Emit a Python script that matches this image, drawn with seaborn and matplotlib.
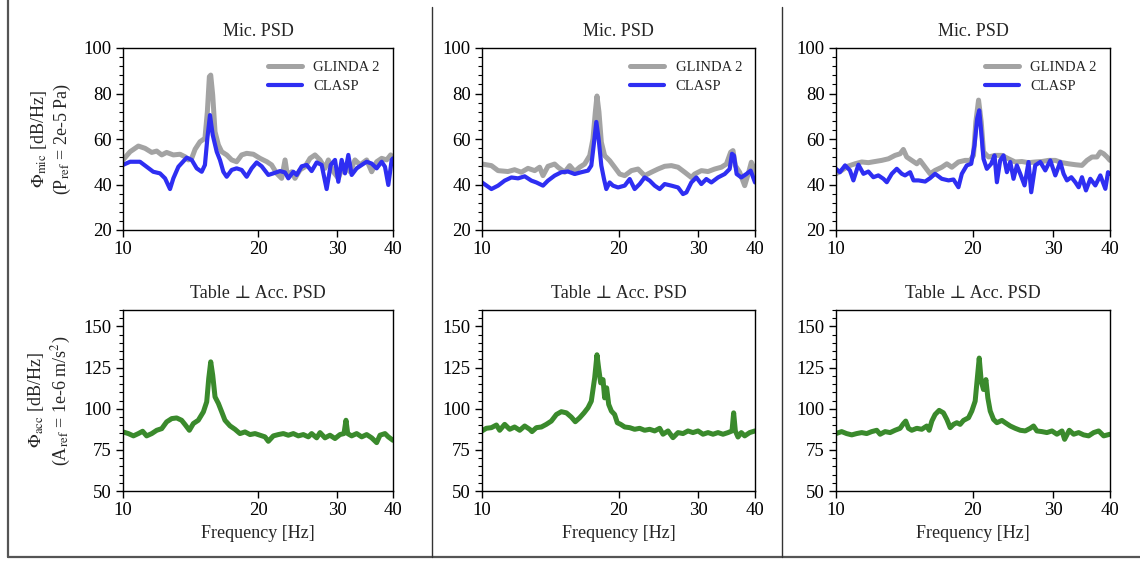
import matplotlib
matplotlib.use("Agg")
import matplotlib.pyplot as plt
import seaborn as sns
from matplotlib.lines import Line2D
from matplotlib.ticker import MultipleLocator, NullLocator, FixedLocator, FixedFormatter

# ---------------------------------------------------------------- data
# Column 1 microphone PSD
mic1_glinda_f = [10.0, 10.37, 10.82, 11.20, 11.59, 11.89, 12.20, 12.51, 12.95, 13.40, 13.75, 13.99,
                 14.23, 14.48, 14.85, 15.23, 15.42, 15.58, 15.69, 15.85, 16.04, 16.32, 16.60, 17.03,
                 17.47, 17.92, 18.39, 18.87, 19.53, 20.21, 20.94, 21.45, 22.01, 22.58, 22.98, 23.25,
                 23.77, 24.18, 24.81, 25.46, 26.12, 26.80, 27.50, 28.21, 28.70, 29.45, 30.21, 31.00,
                 32.08, 32.91, 33.77, 34.94, 35.85, 36.78, 37.74, 38.72, 39.52, 40.0]
mic1_glinda_db = [50.8, 54.4, 56.9, 55.9, 54.1, 54.7, 53.0, 54.1, 53.0, 53.3, 52.2, 50.8,
                  51.5, 55.5, 58.8, 60.3, 72.0, 87.4, 88.1, 79.3, 63.2, 57.4, 54.4, 53.0,
                  50.8, 50.0, 53.0, 53.7, 53.3, 51.5, 50.0, 48.6, 44.9, 42.7, 50.8, 44.2,
                  45.6, 42.7, 46.4, 47.8, 51.5, 53.0, 50.8, 47.1, 50.8, 45.6, 42.7, 48.6,
                  45.6, 50.8, 48.6, 50.8, 45.6, 50.0, 51.5, 50.8, 53.0, 51.5]
mic1_clasp_f = [10.0, 10.37, 10.91, 11.29, 11.68, 12.09, 12.41, 12.73, 12.95, 13.29, 13.87, 14.23,
                14.60, 14.98, 15.23, 15.42, 15.63, 15.85, 16.18, 16.45, 16.74, 17.03, 17.47, 17.92,
                18.39, 18.87, 19.36, 19.86, 20.38, 21.09, 21.64, 22.39, 22.97, 23.37, 23.98, 24.39,
                25.03, 25.68, 26.34, 27.03, 27.73, 28.45, 29.05, 29.70, 30.21, 30.73, 31.26, 31.80,
                32.35, 33.19, 34.06, 34.94, 35.85, 36.78, 37.74, 38.39, 39.05, 39.73, 40.0]
mic1_clasp_db = [48.6, 50.0, 50.0, 47.8, 45.6, 44.9, 42.7, 38.0, 42.7, 47.8, 51.8, 50.8,
                 47.1, 45.6, 48.6, 60.3, 70.5, 61.8, 54.4, 50.8, 45.6, 43.4, 46.4, 47.1,
                 46.4, 43.4, 47.1, 49.7, 48.0, 44.2, 44.9, 45.9, 45.3, 42.7, 45.6, 44.2,
                 48.0, 48.6, 45.9, 49.7, 48.6, 38.0, 48.6, 50.8, 41.2, 50.8, 44.9, 53.0,
                 44.2, 47.1, 48.6, 50.0, 49.2, 47.1, 50.0, 47.8, 39.8, 50.8, 51.5]

# Column 2 microphone PSD
mic2_glinda_f = [10.0, 10.49, 10.85, 11.41, 11.80, 12.21, 12.63, 13.07, 13.40, 13.63, 13.98, 14.46,
                 14.71, 15.22, 15.61, 16.01, 16.42, 16.84, 17.28, 17.57, 17.78, 17.93, 18.11, 18.33,
                 18.64, 19.12, 19.61, 20.12, 20.64, 21.35, 22.08, 22.84, 23.63, 24.44, 25.28, 26.16,
                 27.06, 27.99, 28.95, 29.44, 30.46, 31.51, 32.59, 33.72, 34.59, 35.35, 35.77, 36.20,
                 37.00, 37.96, 38.74, 39.26, 39.80, 40.0]
mic2_glinda_db = [49.0, 48.3, 46.1, 45.7, 46.5, 45.4, 47.1, 46.1, 47.6, 43.9, 48.0, 49.0,
                  47.6, 45.4, 48.3, 45.7, 47.6, 49.0, 52.7, 60.1, 71.9, 78.9, 71.9, 58.6,
                  52.7, 50.5, 47.6, 44.6, 43.9, 46.1, 46.8, 43.9, 45.4, 46.8, 48.0, 48.3,
                  47.6, 45.4, 43.1, 44.6, 46.1, 45.7, 46.8, 47.6, 49.0, 54.2, 54.9, 48.3,
                  45.4, 39.5, 45.4, 49.8, 47.1, 44.0]
mic2_clasp_f = [10.0, 10.49, 10.85, 11.22, 11.61, 12.01, 12.42, 12.85, 13.18, 13.63, 13.98, 14.46,
                14.96, 15.48, 16.01, 16.56, 17.13, 17.42, 17.63, 17.87, 18.08, 18.33, 18.58, 18.80,
                19.12, 19.45, 19.95, 20.64, 21.17, 21.71, 22.27, 22.84, 23.43, 24.03, 24.65, 25.28,
                26.16, 27.06, 27.75, 28.23, 28.95, 29.70, 30.46, 31.24, 32.05, 33.15, 34.29, 35.17,
                35.59, 35.95, 36.44, 37.31, 38.28, 39.13, 40.0]
mic2_clasp_db = [40.9, 38.0, 39.5, 41.7, 43.1, 42.7, 43.6, 41.7, 40.9, 39.5, 41.7, 43.9,
                 45.4, 45.7, 44.6, 45.4, 46.1, 48.3, 57.1, 67.5, 60.1, 48.3, 42.4, 38.0,
                 40.9, 39.5, 38.7, 39.5, 42.4, 38.0, 40.2, 43.1, 41.7, 39.5, 38.0, 40.2,
                 39.5, 38.7, 35.8, 36.5, 40.9, 43.1, 40.2, 42.4, 40.9, 43.1, 44.6, 46.8,
                 53.5, 52.7, 44.6, 43.1, 44.6, 46.1, 40.9]

# Column 3 microphone PSD
mic3_glinda_f = [10.0, 10.29, 10.64, 11.01, 11.39, 11.78, 12.18, 12.60, 13.04, 13.48, 13.83, 14.06,
                 14.30, 14.67, 15.05, 15.30, 15.70, 16.10, 16.51, 17.08, 17.52, 17.97, 18.58, 19.22,
                 19.72, 20.05, 20.29, 20.57, 20.85, 21.09, 21.63, 22.38, 23.15, 23.94, 24.76, 25.61,
                 26.49, 27.40, 28.34, 29.32, 30.33, 31.37, 32.45, 33.56, 34.71, 35.60, 36.52, 37.45,
                 38.09, 38.74, 39.40, 40.0]
mic3_glinda_db = [44.7, 46.2, 48.1, 49.1, 49.9, 49.6, 50.1, 50.6, 51.3, 52.8, 53.5, 55.4,
                  52.1, 50.6, 49.1, 50.6, 47.6, 44.7, 46.2, 47.6, 49.1, 47.6, 49.9, 50.6,
                  50.6, 52.8, 67.5, 77.1, 67.5, 54.3, 52.1, 52.8, 52.8, 51.3, 49.9, 50.1,
                  49.6, 49.9, 50.1, 50.6, 50.6, 49.6, 49.1, 48.7, 48.4, 50.6, 52.1, 52.1,
                  54.3, 53.5, 52.1, 50.6]
mic3_clasp_f = [10.0, 10.20, 10.47, 10.73, 10.92, 11.20, 11.49, 11.78, 12.08, 12.39, 12.71, 12.93,
                13.26, 13.60, 13.95, 14.18, 14.55, 14.80, 15.18, 15.70, 16.10, 16.51, 17.08, 17.67,
                18.12, 18.58, 18.90, 19.38, 19.82, 20.15, 20.43, 20.64, 20.85, 21.09, 21.45, 21.93,
                22.30, 22.57, 22.95, 23.34, 23.74, 24.15, 24.55, 24.97, 25.40, 25.96, 26.49, 26.85,
                27.40, 28.11, 28.83, 29.57, 30.33, 31.10, 31.63, 32.17, 32.89, 33.56, 34.13, 34.71,
                35.42, 36.21, 37.14, 38.09, 39.07, 39.60, 40.0]
mic3_clasp_db = [46.9, 45.4, 48.4, 46.2, 41.8, 48.7, 44.7, 45.7, 43.2, 44.0, 42.5, 41.0,
                 44.7, 46.9, 44.7, 44.0, 45.4, 41.8, 41.8, 41.3, 42.8, 44.7, 42.5, 41.8,
                 42.2, 38.8, 44.7, 48.4, 49.1, 57.2, 69.0, 72.6, 63.1, 51.3, 46.9, 49.1,
                 52.8, 41.0, 50.6, 52.8, 45.4, 49.9, 42.5, 48.4, 44.7, 39.6, 49.9, 36.6,
                 48.4, 49.9, 46.2, 50.6, 44.0, 49.9, 44.7, 41.8, 43.2, 41.0, 38.8, 43.2,
                 37.4, 42.5, 39.6, 44.0, 38.1, 45.4, 44.7]

# Table-normal accelerometer PSD, one per column
acc1_f = [10.0, 10.28, 10.55, 10.82, 11.06, 11.29, 11.59, 11.89, 12.20, 12.51, 12.84, 13.17,
          13.51, 13.75, 14.06, 14.35, 14.72, 15.11, 15.37, 15.53, 15.69, 15.85, 16.04, 16.32,
          16.60, 16.88, 17.32, 17.77, 18.23, 18.71, 19.20, 19.70, 20.21, 20.73, 21.09, 21.64,
          22.20, 22.78, 23.37, 23.98, 24.60, 25.24, 25.90, 26.34, 27.03, 27.50, 28.21, 28.94,
          29.70, 30.47, 31.10, 31.42, 31.70, 32.35, 33.19, 34.06, 34.94, 35.85, 36.78, 37.42,
          38.39, 39.05, 40.0]
acc1_db = [85.9, 84.9, 83.5, 84.9, 86.3, 83.5, 84.9, 86.9, 87.9, 92.0, 94.0, 94.4,
           93.0, 90.4, 86.9, 91.0, 93.0, 98.1, 104.2, 118.4, 128.5, 120.4, 107.2, 103.2,
           98.1, 93.0, 89.6, 87.5, 84.9, 85.9, 84.3, 84.9, 83.9, 82.9, 80.2, 83.5,
           84.3, 84.9, 83.9, 84.9, 83.5, 84.3, 82.9, 84.9, 82.3, 85.5, 82.3, 83.9,
           81.9, 84.3, 84.9, 93.0, 84.9, 83.5, 84.9, 82.9, 84.3, 82.3, 79.4, 83.9,
           84.9, 82.9, 80.8]
acc2_f = [10.0, 10.22, 10.49, 10.76, 10.94, 11.22, 11.51, 11.80, 12.11, 12.42, 12.74, 12.89,
          13.18, 13.52, 13.86, 14.22, 14.59, 14.96, 15.35, 15.74, 16.06, 16.42, 16.79, 17.13,
          17.42, 17.72, 17.93, 18.08, 18.27, 18.49, 18.64, 18.83, 19.03, 19.29, 19.61, 19.88,
          20.22, 20.64, 21.17, 21.71, 22.27, 22.84, 23.43, 24.03, 24.65, 25.07, 25.72, 26.37,
          27.06, 27.75, 28.46, 29.19, 29.95, 30.72, 31.51, 32.32, 33.15, 34.00, 34.88, 35.59,
          35.89, 36.20, 36.69, 37.31, 37.96, 38.93, 40.0]
acc2_db = [86.5, 88.1, 88.5, 90.1, 86.9, 90.5, 87.5, 88.9, 86.9, 89.5, 87.5, 86.1,
           88.5, 88.9, 90.5, 92.5, 96.5, 98.2, 97.5, 94.9, 92.1, 94.5, 97.5, 100.6,
           104.6, 118.7, 132.8, 124.7, 115.7, 117.7, 106.6, 112.7, 102.6, 98.6, 96.5, 91.5,
           90.5, 88.9, 88.5, 87.5, 88.1, 86.9, 87.5, 86.5, 88.1, 84.5, 86.5, 82.4,
           85.5, 84.9, 86.5, 85.5, 86.5, 84.5, 85.5, 84.5, 85.5, 84.5, 85.5, 86.5,
           97.5, 86.5, 82.8, 85.5, 83.5, 85.5, 86.5]
acc3_f = [10.0, 10.29, 10.55, 10.83, 11.10, 11.39, 11.68, 11.98, 12.29, 12.50, 12.82, 13.15,
          13.48, 13.83, 14.06, 14.23, 14.43, 14.67, 15.05, 15.43, 15.83, 16.02, 16.24, 16.51,
          16.85, 17.22, 17.52, 17.82, 18.12, 18.43, 18.74, 19.06, 19.55, 19.88, 20.22, 20.46,
          20.64, 20.85, 21.09, 21.35, 21.56, 21.82, 22.19, 22.57, 23.15, 23.54, 24.15, 24.76,
          25.40, 26.05, 26.72, 27.17, 27.63, 28.34, 29.07, 29.82, 30.58, 31.37, 31.79, 32.55,
          33.28, 34.13, 35.00, 35.90, 36.83, 37.77, 38.74, 40.0]
acc3_db = [84.9, 86.1, 84.9, 84.1, 84.9, 85.5, 84.9, 86.1, 86.9, 84.5, 86.1, 85.5,
           86.9, 88.1, 90.9, 92.5, 88.1, 86.9, 88.1, 87.5, 89.5, 86.9, 92.5, 96.5,
           99.0, 97.5, 93.5, 88.5, 90.5, 91.5, 90.5, 92.9, 94.5, 98.6, 104.6, 119.7,
           130.8, 116.7, 111.7, 117.7, 106.6, 98.6, 93.5, 91.5, 92.9, 91.5, 89.5, 88.1,
           86.9, 86.5, 88.1, 89.5, 86.5, 86.1, 85.5, 86.5, 84.5, 86.5, 81.4, 86.9,
           84.5, 85.5, 84.1, 83.5, 85.5, 86.5, 83.5, 84.5]

freq_ticks = [10, 20, 30, 40]
mic_title = "Mic. PSD"
acc_title = "Table \u22a5 Acc. PSD"
mic_ylabel = "$\\Phi_{\\mathrm{mic}}$ [dB/Hz]\n(P$_{\\mathrm{ref}}$ = 2e-5 Pa)"
acc_ylabel = "$\\Phi_{\\mathrm{acc}}$ [dB/Hz]\n(A$_{\\mathrm{ref}}$ = 1e-6 m/s$^{2}$)"
xlabel = "Frequency [Hz]"

mic_series = [
    (mic1_glinda_f, mic1_glinda_db, mic1_clasp_f, mic1_clasp_db),
    (mic2_glinda_f, mic2_glinda_db, mic2_clasp_f, mic2_clasp_db),
    (mic3_glinda_f, mic3_glinda_db, mic3_clasp_f, mic3_clasp_db),
]
acc_series = [(acc1_f, acc1_db), (acc2_f, acc2_db), (acc3_f, acc3_db)]

# ---------------------------------------------------------------- style
sns.set_theme(style="ticks")
plt.rcParams["font.family"] = ["Liberation Serif", "DejaVu Serif"]
plt.rcParams["mathtext.fontset"] = "stix"
plt.rcParams["axes.edgecolor"] = "black"
plt.rcParams["axes.linewidth"] = 1.0
plt.rcParams["xtick.color"] = "black"
plt.rcParams["ytick.color"] = "black"

GRAY = "#a3a3a3"
BLUE = "#2e2ef2"
GREEN = "#3a8a2c"

W, H = 1140, 567
fig = plt.figure(figsize=(W / 100, H / 100), dpi=100)


def rect(left, top, right, bottom):
    return [left / W, 1 - bottom / H, (right - left) / W, (bottom - top) / H]


cols = [(123, 393), (482, 755), (836, 1110)]
rows = [(48, 230), (310, 491)]


def style_axis(ax, ylim, major, minor):
    ax.set_xscale("log")
    ax.set_xlim(10, 40)
    ax.xaxis.set_major_locator(FixedLocator(freq_ticks))
    ax.xaxis.set_major_formatter(FixedFormatter([str(t) for t in freq_ticks]))
    ax.xaxis.set_minor_locator(NullLocator())
    ax.set_ylim(*ylim)
    ax.yaxis.set_major_locator(MultipleLocator(major))
    ax.yaxis.set_minor_locator(MultipleLocator(minor))
    ax.tick_params(axis="both", which="major", direction="out", length=5, width=1,
                   labelsize=13.5, pad=3)
    ax.tick_params(axis="y", which="minor", direction="out", length=3, width=0.8)
    ax.tick_params(top=False, right=False)
    for s in ax.spines.values():
        s.set_visible(True)
        s.set_color("black")
        s.set_linewidth(1.0)
    ax.set_xlabel("")
    ax.set_ylabel("")


for i, (cl, cr) in enumerate(cols):
    gf, gv, cf, cv = mic_series[i]
    ax = fig.add_axes(rect(cl, rows[0][0], cr, rows[0][1]))
    sns.lineplot(x=gf, y=gv, ax=ax, color=GRAY, lw=3.6, label="GLINDA 2",
                 estimator=None, sort=False)
    sns.lineplot(x=cf, y=cv, ax=ax, color=BLUE, lw=3.0, label="CLASP",
                 estimator=None, sort=False)
    style_axis(ax, (20, 100), 20, 4)
    ax.set_title(mic_title, fontsize=13, pad=9)
    ax.legend(loc="upper right", frameon=False, fontsize=10.5, handlelength=2.3,
              labelspacing=0.4, borderaxespad=0.5)
    if i == 0:
        ax.set_ylabel(mic_ylabel, fontsize=13, labelpad=8)

    af, av = acc_series[i]
    ax2 = fig.add_axes(rect(cl, rows[1][0], cr, rows[1][1]))
    sns.lineplot(x=af, y=av, ax=ax2, color=GREEN, lw=3.6, estimator=None, sort=False)
    style_axis(ax2, (50, 160), 25, 5)
    ax2.set_title(acc_title, fontsize=13, pad=9)
    ax2.set_xlabel(xlabel, fontsize=13, labelpad=4)
    if ax2.get_legend() is not None:
        ax2.get_legend().remove()
    if i == 0:
        ax2.set_ylabel(acc_ylabel, fontsize=13, labelpad=8)

# panel frame and column separators
frame_kw = dict(transform=fig.transFigure, color="#555555", lw=1.6)
fig.add_artist(Line2D([7.5 / W, 7.5 / W], [1, 1 - 557 / H], **frame_kw))
fig.add_artist(Line2D([7.5 / W, 1], [1 - 557 / H, 1 - 557 / H], **frame_kw))
sep_kw = dict(transform=fig.transFigure, color="#333333", lw=1.0)
for xs in (432, 782):
    fig.add_artist(Line2D([xs / W, xs / W], [1 - 7 / H, 1 - 557 / H], **sep_kw))

fig.savefig("out.png", dpi=100)
